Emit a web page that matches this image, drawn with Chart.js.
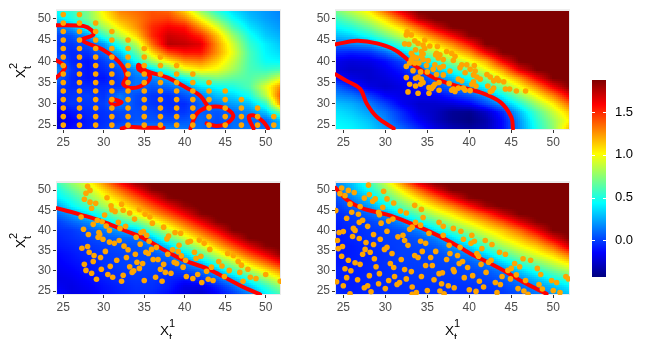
<!DOCTYPE html>
<html>
<head>
<meta charset="utf-8">
<title>Heat panels</title>
<script src="https://cdn.jsdelivr.net/npm/chart.js@4/dist/chart.umd.min.js"></script>
<style>
  html, body { margin: 0; padding: 0; background: #fff; width: 650px; height: 339px; overflow: hidden; }
  canvas { position: absolute; }
  .axis-title { position: absolute; width: 24px; height: 24px; font: 13.5px "Liberation Sans", Arial, sans-serif; color: #000; }
  .axis-title span { position: absolute; line-height: 1; }
  .axis-title .base { left: 0; top: 6px; }
  .axis-title .sup { left: 9px; top: 0; font-size: 11px; }
  .axis-title .sub { left: 9px; top: 14px; font-size: 11px; }
  .axis-title.rotated { transform: rotate(-90deg); }
</style>
</head>
<body>
<canvas id="panel1"></canvas>
<canvas id="panel2"></canvas>
<canvas id="panel3"></canvas>
<canvas id="panel4"></canvas>
<canvas id="colorbar"></canvas>
<div class="axis-title rotated" style="left:8px;top:54px"><span class="base">X</span><span class="sup">2</span><span class="sub">t</span></div>
<div class="axis-title rotated" style="left:8px;top:224px"><span class="base">X</span><span class="sup">2</span><span class="sub">t</span></div>
<div class="axis-title" style="left:160px;top:318px"><span class="base">X</span><span class="sup">1</span><span class="sub">t</span></div>
<div class="axis-title" style="left:445px;top:318px"><span class="base">X</span><span class="sup">1</span><span class="sub">t</span></div>
<script>
// tick labels
const xTicks = [25, 30, 35, 40, 45, 50];
const yTicks = [25, 30, 35, 40, 45, 50];
const colorbarTicks = [0, 0.5, 1, 1.5];
const colorbarRange = [-0.43, 1.875];

// nodes of the value grids, rows go from the top of the panel down
const gridX = [24, 26, 28, 30, 32, 34, 36, 38, 40, 42, 44, 46, 48, 50, 52];
const gridY = [52, 50, 48, 46, 44, 42, 40, 38, 36, 34, 32, 30, 28, 26, 24];

const panel1Grid = [
  [.45, .55, .72, 1.05, 1.3, 1.35, 1.4, 1.35, 1.1, .75, .5, .35, .25, .2, .15],
  [.35, .5, .7, .98, 1.2, 1.3, 1.42, 1.45, 1.3, 1.0, .7, .45, .3, .22, .17],
  [.12, .22, .5, .8, 1.05, 1.25, 1.5, 1.6, 1.55, 1.25, .95, .6, .38, .27, .2],
  [0, .05, .2, .55, .85, 1.1, 1.5, 1.7, 1.65, 1.5, 1.15, .78, .48, .32, .25],
  [-.02, -.02, .05, .2, .55, .85, 1.35, 1.75, 1.72, 1.65, 1.25, .9, .55, .4, .3],
  [0, -.05, -.03, .1, .3, .65, 1.1, 1.42, 1.55, 1.55, 1.25, .95, .6, .42, .35],
  [.1, -.05, -.1, 0, .14, .45, .8, 1.05, 1.25, 1.3, 1.12, .88, .6, .45, .42],
  [.2, -.02, -.1, -.05, .05, .2, .35, .6, .95, 1.05, .98, .8, .6, .55, .6],
  [.12, -.05, -.1, -.1, 0, .12, .15, .25, .45, .65, .72, .65, .62, .72, .95],
  [0, -.05, -.05, -.05, -.02, .13, .05, .1, .18, .38, .45, .5, .62, .95, 1.3],
  [-.05, -.03, 0, -.03, .13, .03, -.02, -.04, .05, .15, .3, .35, .48, .85, 1.45],
  [-.1, -.02, -.02, 0, .15, .02, -.02, -.05, -.05, .08, .15, .22, .3, .55, 1.35],
  [-.18, -.1, -.05, -.03, .02, .04, .02, -.03, -.02, .08, .05, .1, .17, .3, .7],
  [-.25, -.15, -.08, -.04, 0, .05, .05, .03, .05, .1, .03, .1, .1, .08, .3],
  [-.22, -.12, -.08, -.02, .08, .16, .16, .15, .13, .1, 0, .12, .13, .12, .28]
];

const panel2Grid = [
  [.7, .88, 1.05, 1.38, 1.7, 1.9, 1.9, 1.9, 1.9, 1.9, 1.9, 1.9, 1.9, 1.9, 1.9],
  [.55, .7, .88, 1.1, 1.4, 1.75, 1.9, 1.9, 1.9, 1.9, 1.9, 1.9, 1.9, 1.9, 1.9],
  [.42, .52, .68, .9, 1.1, 1.38, 1.68, 1.88, 1.9, 1.9, 1.9, 1.9, 1.9, 1.9, 1.9],
  [.28, .34, .47, .68, .9, 1.12, 1.35, 1.6, 1.85, 1.9, 1.9, 1.9, 1.9, 1.9, 1.9],
  [.12, .15, .2, .38, .62, .88, 1.08, 1.28, 1.55, 1.88, 1.9, 1.9, 1.9, 1.9, 1.9],
  [-.05, -.08, -.05, .08, .3, .6, .85, 1.05, 1.25, 1.6, 1.88, 1.9, 1.9, 1.9, 1.9],
  [-.18, -.22, -.2, -.12, .02, .28, .55, .78, .98, 1.2, 1.6, 1.88, 1.9, 1.9, 1.9],
  [-.2, -.26, -.25, -.18, -.08, .08, .3, .5, .72, .98, 1.25, 1.65, 1.88, 1.9, 1.9],
  [-.1, -.2, -.25, -.22, -.15, -.03, .12, .28, .48, .72, .98, 1.25, 1.6, 1.88, 1.9],
  [.08, -.05, -.2, -.25, -.2, -.1, 0, .12, .25, .45, .72, 1.0, 1.28, 1.62, 1.88],
  [.18, .12, 0, -.15, -.2, -.18, -.15, -.05, .05, .2, .45, .75, 1.02, 1.3, 1.65],
  [.3, .25, .15, 0, -.17, -.25, -.25, -.22, -.15, .03, .22, .5, .8, 1.05, 1.38],
  [.38, .32, .22, .12, -.05, -.22, -.28, -.38, -.4, -.27, -.05, .28, .6, .88, 1.15],
  [.42, .38, .3, .17, 0, -.15, -.28, -.38, -.42, -.33, -.12, .2, .52, .78, 1.05],
  [.45, .42, .35, .22, .1, -.05, -.2, -.3, -.35, -.3, -.12, .18, .48, .75, 1.2]
];

const panel3Grid = [
  [.55, .78, .98, 1.28, 1.6, 1.85, 1.9, 1.9, 1.9, 1.9, 1.9, 1.9, 1.9, 1.9, 1.9],
  [.45, .65, .85, 1.1, 1.35, 1.6, 1.85, 1.9, 1.9, 1.9, 1.9, 1.9, 1.9, 1.9, 1.9],
  [.38, .52, .72, .95, 1.15, 1.38, 1.62, 1.85, 1.9, 1.9, 1.9, 1.9, 1.9, 1.9, 1.9],
  [.2, .42, .58, .8, 1.0, 1.18, 1.4, 1.62, 1.82, 1.9, 1.9, 1.9, 1.9, 1.9, 1.9],
  [.08, .2, .36, .55, .78, 1.0, 1.2, 1.4, 1.62, 1.85, 1.9, 1.9, 1.9, 1.9, 1.9],
  [-.02, .08, .17, .33, .52, .66, .92, 1.15, 1.38, 1.62, 1.85, 1.9, 1.9, 1.9, 1.9],
  [-.05, -.02, .05, .12, .22, .32, .62, .9, 1.15, 1.38, 1.62, 1.88, 1.9, 1.9, 1.9],
  [-.08, -.04, 0, .05, .08, .1, .3, .62, .9, 1.15, 1.38, 1.65, 1.88, 1.9, 1.9],
  [-.1, -.07, -.03, 0, .03, .04, .12, .33, .62, .88, 1.15, 1.4, 1.65, 1.85, 1.9],
  [-.14, -.1, -.05, -.02, 0, .02, .04, .12, .35, .6, .88, 1.15, 1.4, 1.62, 1.85],
  [-.16, -.12, -.08, -.03, 0, .02, .02, .03, .13, .3, .58, .85, 1.12, 1.35, 1.6],
  [-.18, -.15, -.1, -.05, -.02, 0, 0, -.02, .02, .09, .28, .55, .82, 1.05, 1.3],
  [-.2, -.18, -.13, -.08, -.04, -.02, -.02, -.06, -.1, -.03, .08, .27, .52, .78, 1.02],
  [-.16, -.2, -.16, -.11, -.07, -.04, -.04, -.08, -.2, -.2, -.08, .08, .28, .52, .78],
  [-.1, -.2, -.18, -.12, -.08, -.05, -.06, -.12, -.22, -.26, -.15, -.02, .14, .38, .6]
];

const panel4Grid = [
  [.15, .3, .55, .9, 1.3, 1.7, 1.9, 1.9, 1.9, 1.9, 1.9, 1.9, 1.9, 1.9, 1.9],
  [.12, .25, .45, .75, 1.05, 1.35, 1.65, 1.88, 1.9, 1.9, 1.9, 1.9, 1.9, 1.9, 1.9],
  [.02, .15, .32, .58, .85, 1.1, 1.35, 1.62, 1.85, 1.9, 1.9, 1.9, 1.9, 1.9, 1.9],
  [-.03, .08, .2, .42, .65, .9, 1.1, 1.3, 1.55, 1.8, 1.9, 1.9, 1.9, 1.9, 1.9],
  [-.06, 0, .08, .2, .42, .65, .88, 1.05, 1.25, 1.45, 1.7, 1.88, 1.9, 1.9, 1.9],
  [-.08, -.03, 0, .06, .18, .42, .62, .85, 1.02, 1.2, 1.4, 1.65, 1.85, 1.9, 1.9],
  [-.1, -.05, -.02, 0, .05, .15, .38, .6, .8, 1.0, 1.15, 1.35, 1.62, 1.88, 1.9],
  [-.1, -.06, -.03, -.01, 0, .05, .15, .35, .58, .8, 1.0, 1.15, 1.35, 1.65, 1.88],
  [-.1, -.08, -.05, -.02, 0, .02, .06, .18, .35, .58, .8, .98, 1.12, 1.35, 1.7],
  [-.1, -.08, -.06, -.03, 0, 0, .02, .08, .17, .35, .58, .78, .95, 1.1, 1.35],
  [-.1, -.08, -.06, -.03, -.01, 0, .01, .02, .06, .15, .35, .55, .72, .9, 1.08],
  [-.08, -.08, -.06, -.04, -.02, -.01, 0, 0, .02, .05, .15, .32, .5, .68, .85],
  [-.08, -.08, -.06, -.04, -.03, -.02, -.02, -.02, 0, .01, .06, .17, .3, .45, .6],
  [-.06, -.08, -.06, -.05, -.04, -.03, -.03, -.03, -.03, -.02, .01, .08, .18, .28, .4],
  [-.06, -.08, -.06, -.05, -.04, -.04, -.04, -.04, -.05, -.05, -.02, .03, .12, .2, .3]
];

// red contours, each array is one separate line
const panel1Contours = [
  [[24, 48.5], [27.5, 48.3], [28.5, 47.3], [28.7, 46.2], [27.3, 45], [29.9, 42.7], [32, 39.6], [32.8, 36.5], [32.4, 34.6], [33.6, 33.7], [35.3, 35], [35.7, 36.5], [34.3, 38.1], [34.3, 39.2], [35.3, 37.7], [37.8, 36.2], [40.2, 33.8], [41.9, 31.9], [42.9, 29.2]],
  [[40.7, 24.2], [41.5, 27.7], [42.9, 29.2], [44.8, 29.1], [46, 27.3], [45.2, 25.4], [43.9, 24.8], [42.7, 25.4]],
  [[48.5, 24.2], [47.9, 26.9], [48.5, 27.3], [49.7, 25.8], [50.3, 24.2]],
  [[24, 40.4], [25.2, 38.8], [24.8, 37.3], [24, 36]],
  [[31, 31.2], [32.2, 30.4], [31.4, 29.8], [30.8, 30.4], [31, 31.2]],
  [[32.2, 24.2], [33, 24.6], [34.9, 24.4], [37.4, 24.4]]
];
const panel2Contours = [
  [[24.1, 44], [26.6, 44.8], [29, 44.2], [31.3, 42.5], [33.3, 39.3], [35.7, 36.2], [38.5, 34.2], [41.3, 32.7], [43.7, 30.4], [45, 26.9], [45.2, 24.2]],
  [[24.1, 36.9], [25.4, 35.4], [27, 33.5], [27.8, 30], [29, 26.9], [31, 24.2]]
];
const panel3Contours = [
  [[24.2, 45.5], [27.3, 43.8], [29.9, 42.2], [32.4, 40.1], [34.9, 38.1], [37.4, 35.2], [39.8, 32.7], [42.7, 30.6], [45.2, 28.1], [47.2, 26], [49.3, 24.2]]
];
const panel4Contours = [
  [[24.1, 50.5], [25.4, 47.6], [27.2, 45.5], [30.2, 43.9], [32.5, 42.2], [35.3, 39.7], [37.7, 37.2], [40.1, 34.3], [42.5, 31.8], [44.4, 29.7], [46.4, 27.2], [49.2, 24.3]]
];

// panel 1 sample sites are a regular design, column positions and the top site of each column
const panel1SiteX = [25, 27, 29, 31, 33, 35, 37, 39, 41, 43, 45, 47, 49, 51];
const panel1SiteTop = [51, 51, 49, 47, 45, 43, 41, 39, 37, 35, 33, 31, 29, 27];
const panel1SiteY = [25, 27, 29, 31, 33, 35, 37, 39, 41, 43, 45, 47, 49, 51];

const panel2Points = [[32.6, 46.9], [33.1, 46.2], [32.5, 46.2], [34.7, 45], [33.5, 44.8], [33.9, 44.2], [32.3, 44.1], [32.8, 44], [35.3, 43.6], [36.2, 43.5], [34.5, 43.8], [34.7, 43], [33.6, 42.7], [34.3, 42.3], [37.3, 42.3], [37.9, 41.9], [36.1, 41.9], [33.1, 41.9], [36.5, 41.5], [38.3, 41.2], [33.7, 40.8], [36.3, 40.8], [34.5, 40.4], [33.1, 40.4], [35.1, 40.2], [36.9, 40.4], [38.1, 40.2], [33.5, 39.6], [32.9, 39.6], [34, 39.6], [35.9, 39.2], [34.9, 39], [32.5, 38.8], [39.7, 39.2], [40.6, 39], [39.1, 39.2], [38.9, 38.5], [36.9, 38.8], [36.5, 38.5], [35.7, 38.1], [40.1, 38.1], [40.7, 37.7], [37.7, 37.7], [33.3, 37.8], [35, 37.5], [34.2, 37.5], [39.5, 37.3], [40.5, 36.8], [36.9, 36.8], [36.1, 36.9], [42.1, 36.9], [42.5, 36.3], [40.9, 36.3], [43.3, 36], [32.5, 36.2], [33.9, 36.3], [33.6, 36], [34.3, 35.8], [41.3, 35.8], [42.9, 35.4], [43.5, 35.5], [38.7, 35.8], [39.1, 35.4], [34.5, 35], [40.5, 35.2], [36.4, 35], [44.1, 35.2], [34.2, 34.6], [37.6, 34.8], [40.3, 34.6], [32.9, 34.6], [42.2, 34.2], [40.8, 34.2], [35.9, 34.6], [35.7, 34.1], [33.6, 34.2], [35.2, 33.8], [42.9, 33.7], [35.5, 33.6], [38.7, 33.7], [38.1, 33.5], [39.3, 33.7], [44.3, 33.5], [44.8, 33.5], [40.1, 33.1], [39.5, 33.2], [37.9, 33.2], [36.4, 33.2], [38.3, 32.9], [42.7, 33.1], [45.6, 33], [46.7, 33], [32.7, 32.8], [33.9, 32.5], [35.2, 32.5], [42.5, 32.9], [33.3, 41.2], [34.5, 41.7], [36, 41.5], [34.3, 41.2]];

const panel3Points = [[28, 50.9], [28.3, 49.9], [27.8, 49.2], [30.4, 48.1], [27.6, 47.7], [28.3, 47], [29, 46.7], [32.2, 46.5], [30.9, 46.1], [28.5, 45.5], [31, 45.1], [34.4, 45.2], [31.4, 44.7], [32.4, 45], [33.2, 44.3], [35.1, 44], [30.1, 43.8], [35.7, 43.3], [27.2, 43.3], [33.8, 42.8], [29.2, 42.5], [29.8, 42.2], [31.8, 42], [36, 41.8], [28.7, 41.5], [30.3, 41.1], [32.7, 41], [32, 40.5], [37.4, 40.8], [27.5, 40.3], [30.7, 40], [34.9, 39.7], [34.6, 39.5], [29.4, 39.5], [38.8, 39.5], [39.5, 39.3], [28.1, 39], [29.5, 39], [35.3, 38.8], [38, 38.6], [29.3, 38.3], [34, 38.3], [37.8, 37.9], [29.9, 37.8], [31.9, 37.5], [41.8, 37.6], [40.7, 37.3], [40.4, 37.1], [42.4, 36.8], [35.6, 37.3], [30.7, 37.1], [31.3, 36.8], [34.5, 36.6], [39.3, 36.3], [32.5, 36.1], [43.1, 35.3], [27.3, 35.6], [28, 36], [33, 35.2], [36.5, 35.8], [35.9, 35.3], [38.5, 35.2], [30.2, 34.8], [28.2, 34.6], [35.2, 34.6], [37.9, 34.1], [33.9, 34.1], [35.5, 34.3], [39.2, 34.8], [41.2, 34.6], [45.3, 34.3], [46, 33.8], [39.6, 33.7], [28.8, 33.8], [42, 33.6], [32.8, 33.3], [29.6, 33.3], [41.4, 33.1], [36.1, 32.8], [36.7, 32.8], [31.6, 32.6], [46.6, 32.3], [40.1, 32.6], [44.2, 32.3], [28.7, 32.3], [34.1, 32.1], [34.8, 31.8], [38.7, 32.1], [39, 31.8], [27.6, 31.6], [37.4, 31.6], [47, 31.4], [44.6, 31.2], [30.8, 31.1], [33.2, 31], [43.3, 30.9], [39.8, 30.9], [47.8, 30.4], [29.7, 30.4], [37, 30.4], [34.4, 30.6], [45.5, 30.1], [27.8, 30.1], [33.7, 30], [33.5, 29.6], [37.6, 29.6], [42.7, 29.9], [46.8, 29.6], [28.5, 29.4], [38.3, 29.4], [30.5, 29.1], [41.6, 29.1], [50, 29.1], [32.4, 28.9], [40.2, 28.6], [44.9, 28.6], [31.1, 28.4], [36.4, 28.4], [41, 28.1], [48.1, 28.4], [48.8, 28.1], [42.9, 27.9], [43.5, 27.6], [29.1, 27.9], [32.2, 27.4], [35, 27.6], [37.2, 27.4], [47.2, 27.4], [42.1, 27.1], [51.8, 27.4]];

const panel4Points = [[28, 51.2], [24.8, 50.5], [25.6, 49.9], [26.3, 49.4], [29.8, 49.7], [24.6, 49.1], [25.2, 48.6], [28.1, 48.9], [27.5, 48], [28.8, 47.8], [28.5, 47.2], [30.2, 47.8], [31, 46.8], [25.8, 46.5], [33.5, 46.2], [27, 45.9], [29.7, 45.7], [34.3, 45.2], [24.1, 44.9], [26, 44.5], [31.8, 44.8], [32.5, 44.3], [29.2, 44.5], [26.8, 44], [29.3, 43.9], [34.5, 43.2], [25.4, 43], [30.9, 42.8], [30.4, 42.3], [27.3, 42.5], [36.4, 42], [26.9, 42], [33.6, 42], [29.5, 41.8], [36.9, 41], [34.2, 41.3], [27.9, 41], [33.2, 40.8], [26.2, 40.5], [32.9, 40.3], [26.4, 40], [30.2, 39.8], [38.1, 40.5], [39, 39.8], [24.5, 39.5], [25, 39.7], [35.2, 39.3], [28.6, 39], [40.3, 38.8], [26.1, 38.5], [32.1, 38.8], [31.5, 38.4], [36.9, 38.8], [26.9, 38], [39.3, 37.8], [32.3, 37.5], [29.4, 37.8], [41.9, 37.5], [24.3, 37.5], [34.2, 37.3], [40.6, 37.3], [40.2, 36.8], [27.7, 37], [34.8, 36.8], [32.7, 36.3], [42.7, 36.5], [28.6, 36.5], [24.9, 36], [24.4, 35.5], [37.6, 36.3], [38.9, 35.8], [30.2, 35.8], [29.9, 35.3], [41.5, 35.5], [27.6, 35.3], [34.4, 34.8], [28.2, 34.6], [36, 34.8], [43.6, 34.6], [44.3, 34.1], [40.9, 34.3], [27.3, 34.1], [30.8, 34.3], [37.7, 34.3], [33.5, 33.8], [38.6, 33.8], [33.9, 33.3], [41.1, 33.6], [24.8, 33.6], [35.4, 33.3], [28.7, 33], [46.4, 33], [47.3, 32.6], [31.9, 32.8], [37.3, 32.8], [25.6, 32.6], [42.6, 32.6], [42.3, 32.1], [26.4, 32], [39.2, 32.3], [30.6, 31.8], [38.8, 31.8], [27, 31.6], [45.4, 31.8], [41.4, 31.6], [34.8, 31.3], [35.6, 31.3], [46, 31], [28.9, 31], [31, 30.8], [39.8, 30.8], [25.2, 30.5], [45, 30.6], [48.1, 30.6], [44.6, 30.1], [32.3, 30.3], [25.9, 30], [38.1, 30.3], [38.2, 29.8], [36.8, 29.5], [36.4, 29.3], [42, 29.6], [33.1, 29.8], [29.3, 29.3], [48.5, 29.1], [45.6, 29], [28.1, 28.8], [40.4, 28.8], [31.1, 28.6], [34.3, 28.6], [51.5, 28.6], [51.8, 28], [25.4, 28.3], [43.9, 28.6], [39.4, 28.3], [44.9, 28], [32.5, 28], [35.8, 27.8], [26.7, 27.8], [30.4, 27.6], [41.2, 27.4], [46.7, 27.6], [49.8, 27.6], [50.4, 27.1], [24.2, 27.3], [43.1, 27.1], [43.7, 26.6], [31.7, 27.1], [31.4, 26.6], [29.2, 26.8], [36.7, 26.8], [25, 26.3], [37.5, 26.3], [41.7, 26], [48.3, 26.6], [27.9, 26.3], [27.5, 25.8], [33.2, 26], [38.2, 25.8], [30, 25.6], [45.8, 25.6], [48.7, 25.5], [40, 25.3], [36.5, 25], [35, 25.1], [46.5, 25], [50, 25.1], [28.3, 24.8], [40.8, 24.9], [43.3, 24.6], [50.8, 24.6], [25.8, 24.3], [33.7, 24.6], [33.2, 24.2], [37, 24.3], [47, 24.2]];

const jetColors = ['#00007F', '#0000FF', '#007FFF', '#00FFFF', '#7FFF7F', '#FFFF00', '#FF7F00', '#FF0000', '#7F0000'];

const FONT = '"Liberation Sans", Arial, sans-serif';
Chart.defaults.animation = false;

function jetColor(value) {
  const t = Math.min(0.9999, Math.max(0, (value - colorbarRange[0]) / (colorbarRange[1] - colorbarRange[0]))) * 8;
  const i = Math.floor(t);
  const a = parseInt(jetColors[i].slice(1), 16), b = parseInt(jetColors[i + 1].slice(1), 16);
  const f = t - i;
  const mix = (shift) => Math.round(((a >> shift) & 255) * (1 - f) + ((b >> shift) & 255) * f);
  return `rgb(${mix(16)},${mix(8)},${mix(0)})`;
}

// shading between the grid nodes, the tile size is about the raster step of the original
function gridValue(grid, x, y) {
  const cx = Math.min(gridX.length - 1.001, Math.max(0, (x - gridX[0]) / 2));
  const cy = Math.min(gridY.length - 1.001, Math.max(0, (gridY[0] - y) / 2));
  const i = Math.floor(cx), j = Math.floor(cy);
  const fx = cx - i, fy = cy - j;
  const top = grid[j][i] * (1 - fx) + grid[j][i + 1] * fx;
  const bottom = grid[j + 1][i] * (1 - fx) + grid[j + 1][i + 1] * fx;
  return top * (1 - fy) + bottom * fy;
}

const heatPlugin = {
  id: 'heat',
  beforeDatasetsDraw(chart, args, opts) {
    const { ctx, chartArea, scales } = chart;
    ctx.save();
    ctx.fillStyle = '#EBEBEB';
    ctx.fillRect(chartArea.left, chartArea.top, chartArea.width, chartArea.height);

    const left = Math.round(scales.x.getPixelForValue(opts.xRange[0]));
    const right = Math.round(scales.x.getPixelForValue(opts.xRange[1]));
    const top = Math.round(scales.y.getPixelForValue(opts.yRange[1]));
    const bottom = Math.round(scales.y.getPixelForValue(opts.yRange[0]));
    for (let py = top; py < bottom; py += 2) {
      for (let px = left; px < right; px += 2) {
        const v = gridValue(opts.grid, scales.x.getValueForPixel(px + 1), scales.y.getValueForPixel(py + 1));
        ctx.fillStyle = jetColor(v);
        ctx.fillRect(px, py, Math.min(2, right - px), Math.min(2, bottom - py));
      }
    }
    ctx.restore();
  }
};

function makePanel(id, box, plot, limits, grid, contours, points) {
  const canvas = document.getElementById(id);
  canvas.width = box.w;
  canvas.height = box.h;
  canvas.style.left = box.x + 'px';
  canvas.style.top = box.y + 'px';

  const datasets = contours.map((line) => ({
    type: 'scatter',
    data: line.map((p) => ({ x: p[0], y: p[1] })),
    showLine: true,
    tension: 0.35,
    borderColor: '#FF0000',
    borderWidth: 4,
    borderCapStyle: 'round',
    pointRadius: 0,
    order: 2
  }));
  datasets.push({
    type: 'scatter',
    data: points.map((p) => ({ x: p[0], y: p[1] })),
    backgroundColor: '#FFA500',
    borderWidth: 0,
    pointRadius: 2.8,
    order: 1
  });

  const axis = (ticks, min, max) => ({
    type: 'linear',
    min: min,
    max: max,
    afterBuildTicks(scale) { scale.ticks = ticks.map((v) => ({ value: v })); },
    grid: { drawOnChartArea: false, tickColor: '#333333', tickLength: 3, tickWidth: 1 },
    border: { display: false },
    ticks: { color: '#4D4D4D', font: { family: FONT, size: 12 }, padding: 2, maxRotation: 0 }
  });
  const xAxis = axis(xTicks, limits.x[0], limits.x[1]);
  xAxis.afterFit = (scale) => { scale.height = box.h - plot.bottom; };
  const yAxis = axis(yTicks, limits.y[0], limits.y[1]);
  yAxis.afterFit = (scale) => { scale.width = plot.left; };

  return new Chart(canvas, {
    type: 'scatter',
    data: { datasets: datasets },
    plugins: [heatPlugin],
    options: {
      responsive: false,
      layout: { autoPadding: false, padding: { left: 0, top: plot.top, right: box.w - plot.right, bottom: 0 } },
      scales: { x: xAxis, y: yAxis },
      plugins: {
        legend: { display: false },
        tooltip: { enabled: false },
        heat: { grid: grid, xRange: limits.heatX, yRange: limits.heatY }
      }
    }
  });
}

// panel 1 sites from the design lists
const panel1Points = [];
panel1SiteX.forEach((x, i) => {
  panel1SiteY.forEach((y) => {
    if (y <= panel1SiteTop[i]) panel1Points.push([x, y]);
  });
});

makePanel('panel1', { x: 0, y: 0, w: 300, h: 170 }, { left: 56, top: 7, right: 281, bottom: 130 },
  { x: [24.1, 51.89], y: [23.85, 52.24], heatX: [24.22, 51.77], heatY: [24.1, 51.8] },
  panel1Grid, panel1Contours, panel1Points);
makePanel('panel2', { x: 300, y: 0, w: 290, h: 170 }, { left: 35, top: 7, right: 270, bottom: 130 },
  { x: [24.01, 51.99], y: [23.85, 52.24], heatX: [24.1, 51.9], heatY: [24.1, 51.8] },
  panel2Grid, panel2Contours, panel2Points);
makePanel('panel3', { x: 0, y: 170, w: 300, h: 150 }, { left: 56, top: 11, right: 281, bottom: 125 },
  { x: [24.1, 51.89], y: [24.01, 52.23], heatX: [24.22, 51.77], heatY: [24.25, 51.85] },
  panel3Grid, panel3Contours, panel3Points);
makePanel('panel4', { x: 300, y: 170, w: 290, h: 150 }, { left: 35, top: 11, right: 270, bottom: 125 },
  { x: [24.01, 51.99], y: [24.01, 52.23], heatX: [24.1, 51.9], heatY: [24.25, 51.85] },
  panel4Grid, panel4Contours, panel4Points);

// colour bar, one floating bar on the same value scale as the legend labels
const colorbarCanvas = document.getElementById('colorbar');
colorbarCanvas.width = 60;
colorbarCanvas.height = 230;
colorbarCanvas.style.left = '590px';
colorbarCanvas.style.top = '65px';

const colorbarTickMarks = {
  id: 'colorbarTickMarks',
  afterDatasetsDraw(chart) {
    const { ctx, chartArea, scales } = chart;
    ctx.save();
    ctx.strokeStyle = '#FFFFFF';
    ctx.lineWidth = 1;
    colorbarTicks.forEach((v) => {
      const py = Math.round(scales.y.getPixelForValue(v)) + 0.5;
      ctx.beginPath();
      ctx.moveTo(chartArea.left, py);
      ctx.lineTo(chartArea.left + 3, py);
      ctx.moveTo(chartArea.right - 3, py);
      ctx.lineTo(chartArea.right, py);
      ctx.stroke();
    });
    ctx.restore();
  }
};

new Chart(colorbarCanvas, {
  type: 'bar',
  data: {
    labels: ['value'],
    datasets: [{
      data: [colorbarRange],
      barPercentage: 1,
      categoryPercentage: 1,
      backgroundColor(context) {
        const area = context.chart.chartArea;
        if (!area) return jetColors[0];
        const gradient = context.chart.ctx.createLinearGradient(0, area.bottom, 0, area.top);
        jetColors.forEach((c, i) => gradient.addColorStop(i / (jetColors.length - 1), c));
        return gradient;
      }
    }]
  },
  plugins: [colorbarTickMarks],
  options: {
    responsive: false,
    layout: { autoPadding: false, padding: { left: 2, top: 15, right: 0, bottom: 0 } },
    scales: {
      x: {
        display: true,
        grid: { display: false },
        border: { display: false },
        ticks: { display: false },
        afterFit(scale) { scale.height = 18; }
      },
      y: {
        position: 'right',
        min: colorbarRange[0],
        max: colorbarRange[1],
        afterBuildTicks(scale) { scale.ticks = colorbarTicks.map((v) => ({ value: v })); },
        grid: { display: false },
        border: { display: false },
        ticks: {
          color: '#000000',
          font: { family: FONT, size: 13 },
          padding: 1,
          callback: (v) => v.toFixed(1)
        },
        afterFit(scale) { scale.width = 44; }
      }
    },
    plugins: { legend: { display: false }, tooltip: { enabled: false } }
  }
});
</script>
</body>
</html>
